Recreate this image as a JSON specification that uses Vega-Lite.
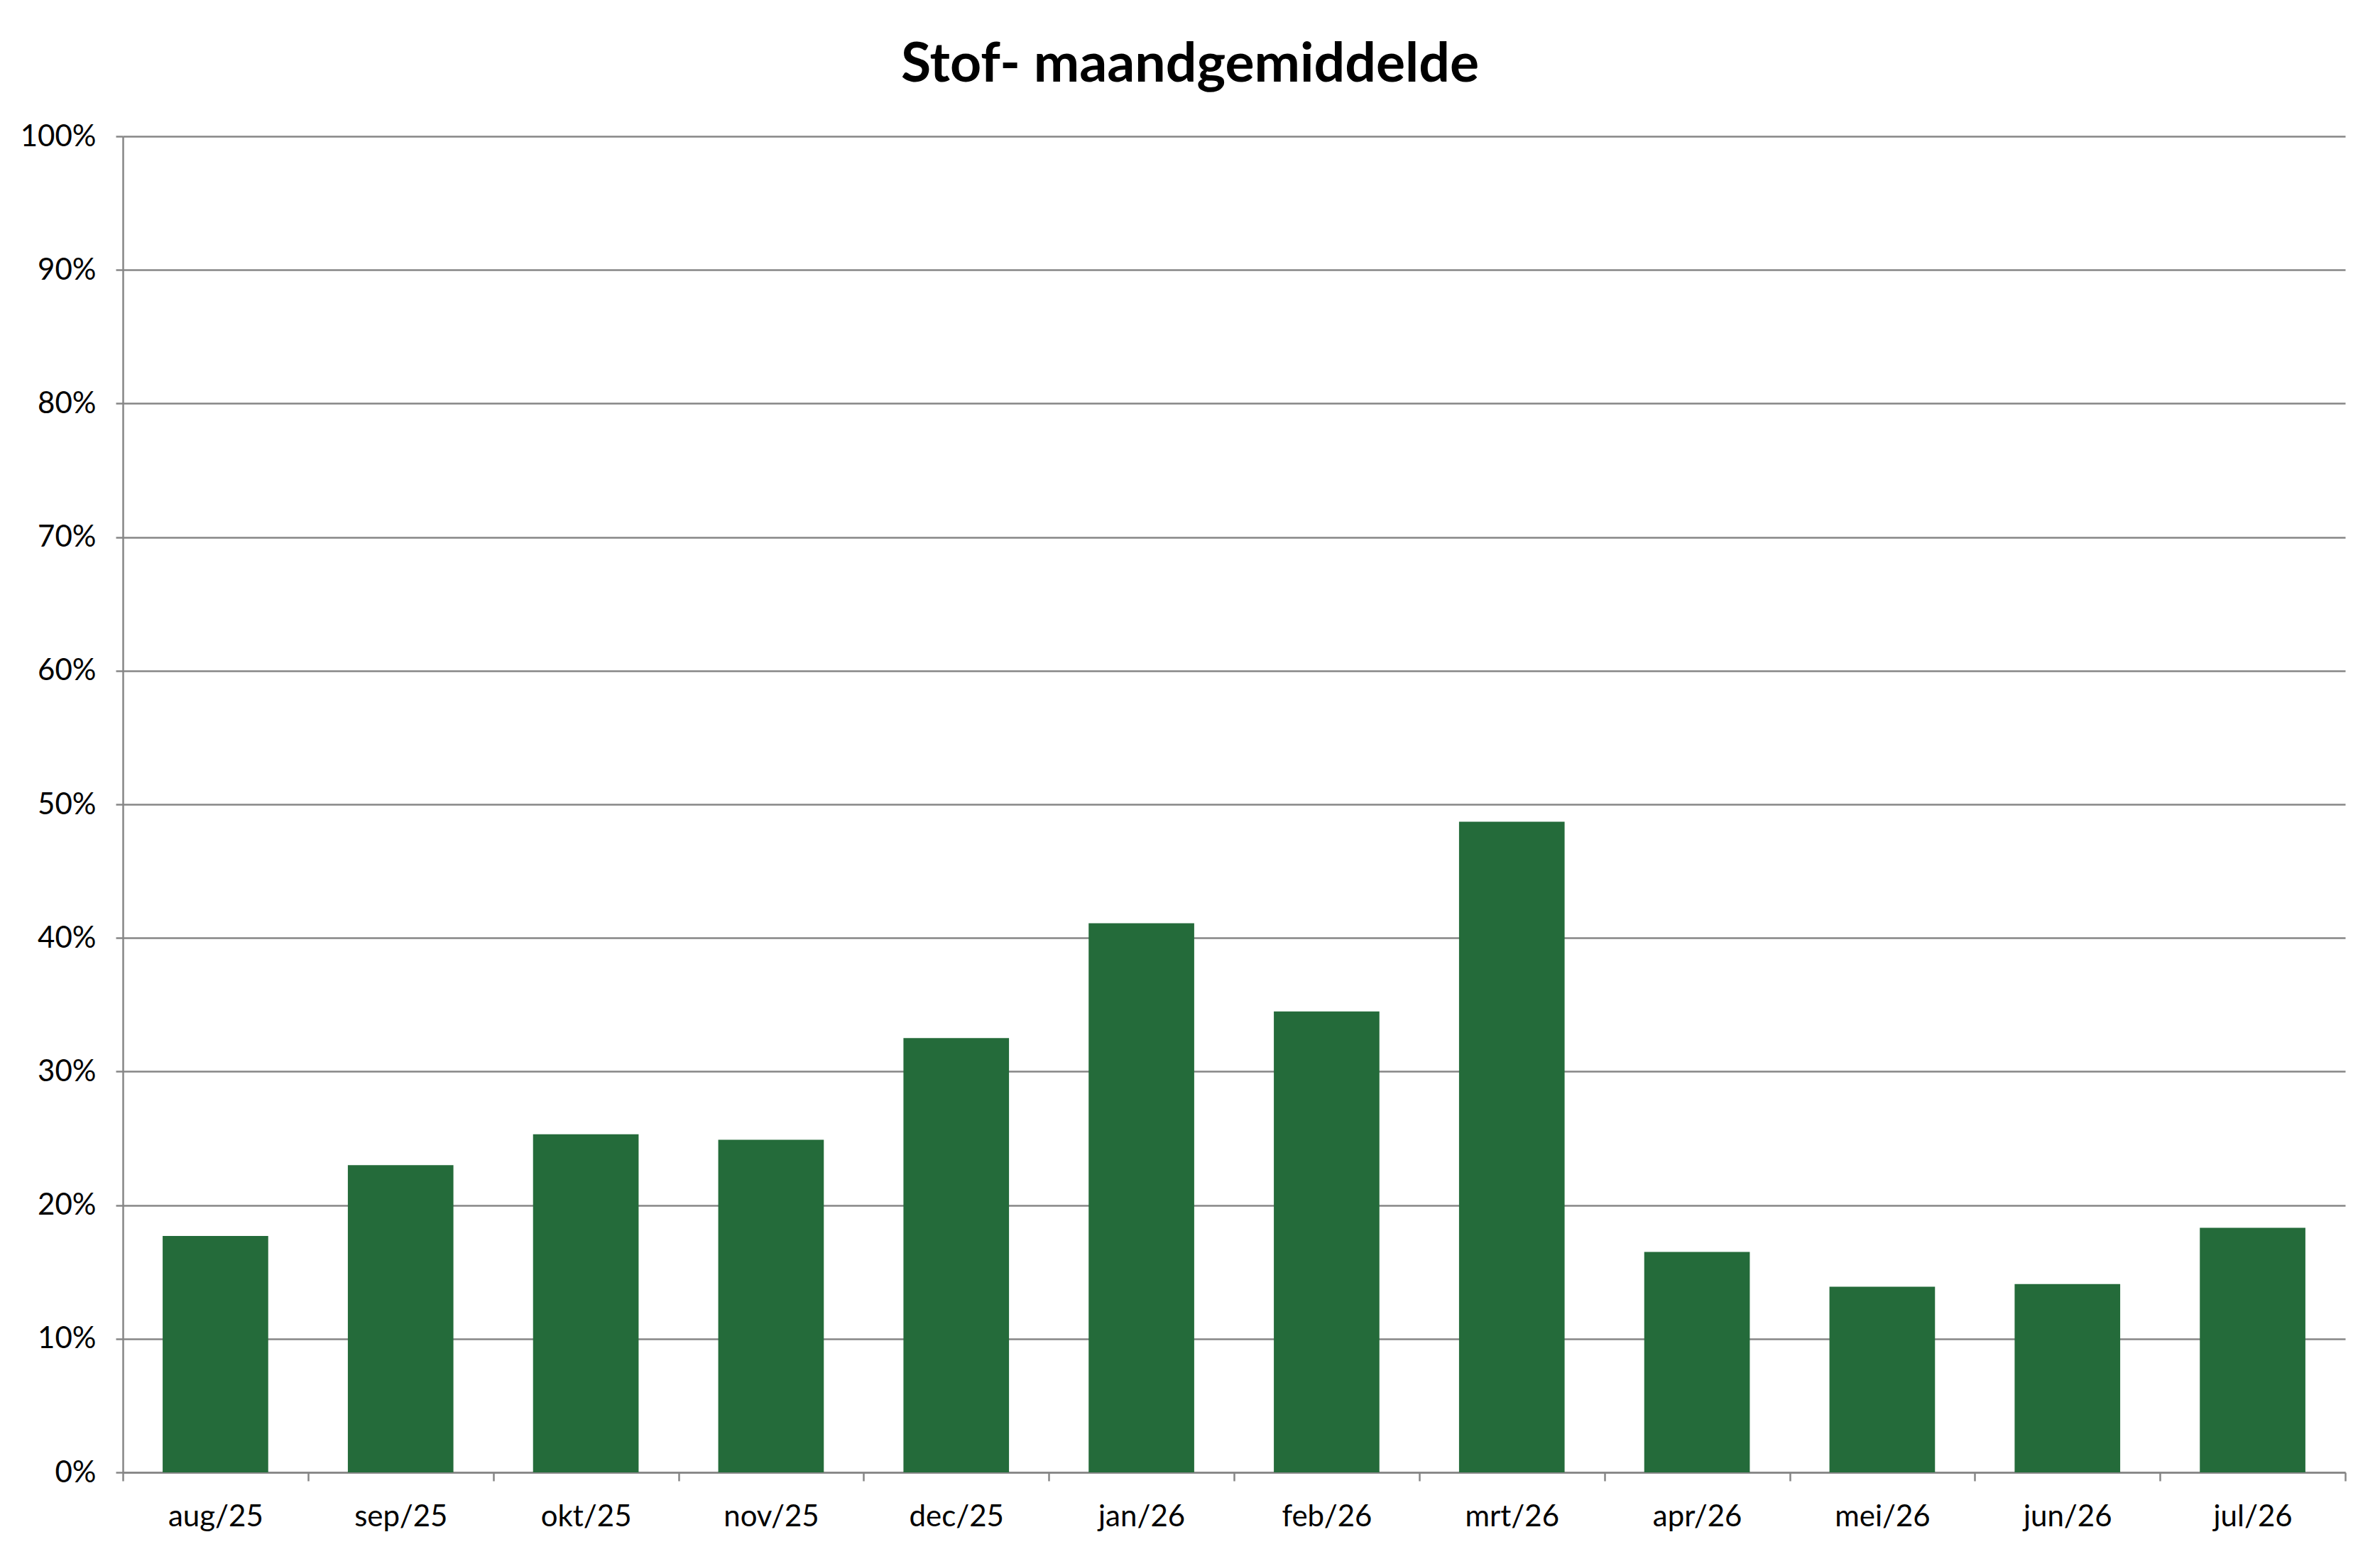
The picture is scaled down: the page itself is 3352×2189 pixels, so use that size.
{
  "$schema": "https://vega.github.io/schema/vega-lite/v6.json",
  "autosize": "none",
  "width": 3130,
  "height": 1882,
  "padding": {"left": 173, "top": 192, "right": 49, "bottom": 115},
  "background": "white",
  "title": {
    "text": "Stof- maandgemiddelde",
    "font": "Lato",
    "fontSize": 77,
    "fontWeight": "bold",
    "color": "black",
    "anchor": "middle",
    "frame": "group",
    "dx": -62,
    "offset": 40
  },
  "config": {
    "view": {"stroke": null},
    "axis": {
      "labelFont": "Lato",
      "labelFontSize": 42,
      "labelColor": "black",
      "domainColor": "#868686",
      "domainWidth": 2.5,
      "tickColor": "#868686",
      "tickWidth": 2.5,
      "gridColor": "#868686",
      "gridWidth": 2.5,
      "title": null
    }
  },
  "data": {
    "values": [
      {"maand": "aug/25", "stof": 0.177},
      {"maand": "sep/25", "stof": 0.230},
      {"maand": "okt/25", "stof": 0.253},
      {"maand": "nov/25", "stof": 0.249},
      {"maand": "dec/25", "stof": 0.325},
      {"maand": "jan/26", "stof": 0.411},
      {"maand": "feb/26", "stof": 0.345},
      {"maand": "mrt/26", "stof": 0.487},
      {"maand": "apr/26", "stof": 0.165},
      {"maand": "mei/26", "stof": 0.139},
      {"maand": "jun/26", "stof": 0.141},
      {"maand": "jul/26", "stof": 0.183}
    ]
  },
  "mark": {"type": "bar", "color": "#246B3A", "width": {"band": 0.57}},
  "encoding": {
    "x": {
      "field": "maand",
      "type": "nominal",
      "sort": null,
      "scale": {"paddingInner": 0, "paddingOuter": 0},
      "axis": {
        "labelAngle": 0,
        "tickBand": "extent",
        "tickSize": 12,
        "labelPadding": 30,
        "grid": false
      }
    },
    "y": {
      "field": "stof",
      "type": "quantitative",
      "scale": {"domain": [0, 1]},
      "axis": {
        "format": ".0%",
        "values": [0, 0.1, 0.2, 0.3, 0.4, 0.5, 0.6, 0.7, 0.8, 0.9, 1],
        "tickSize": 10,
        "labelPadding": 28,
        "grid": true
      }
    }
  }
}
